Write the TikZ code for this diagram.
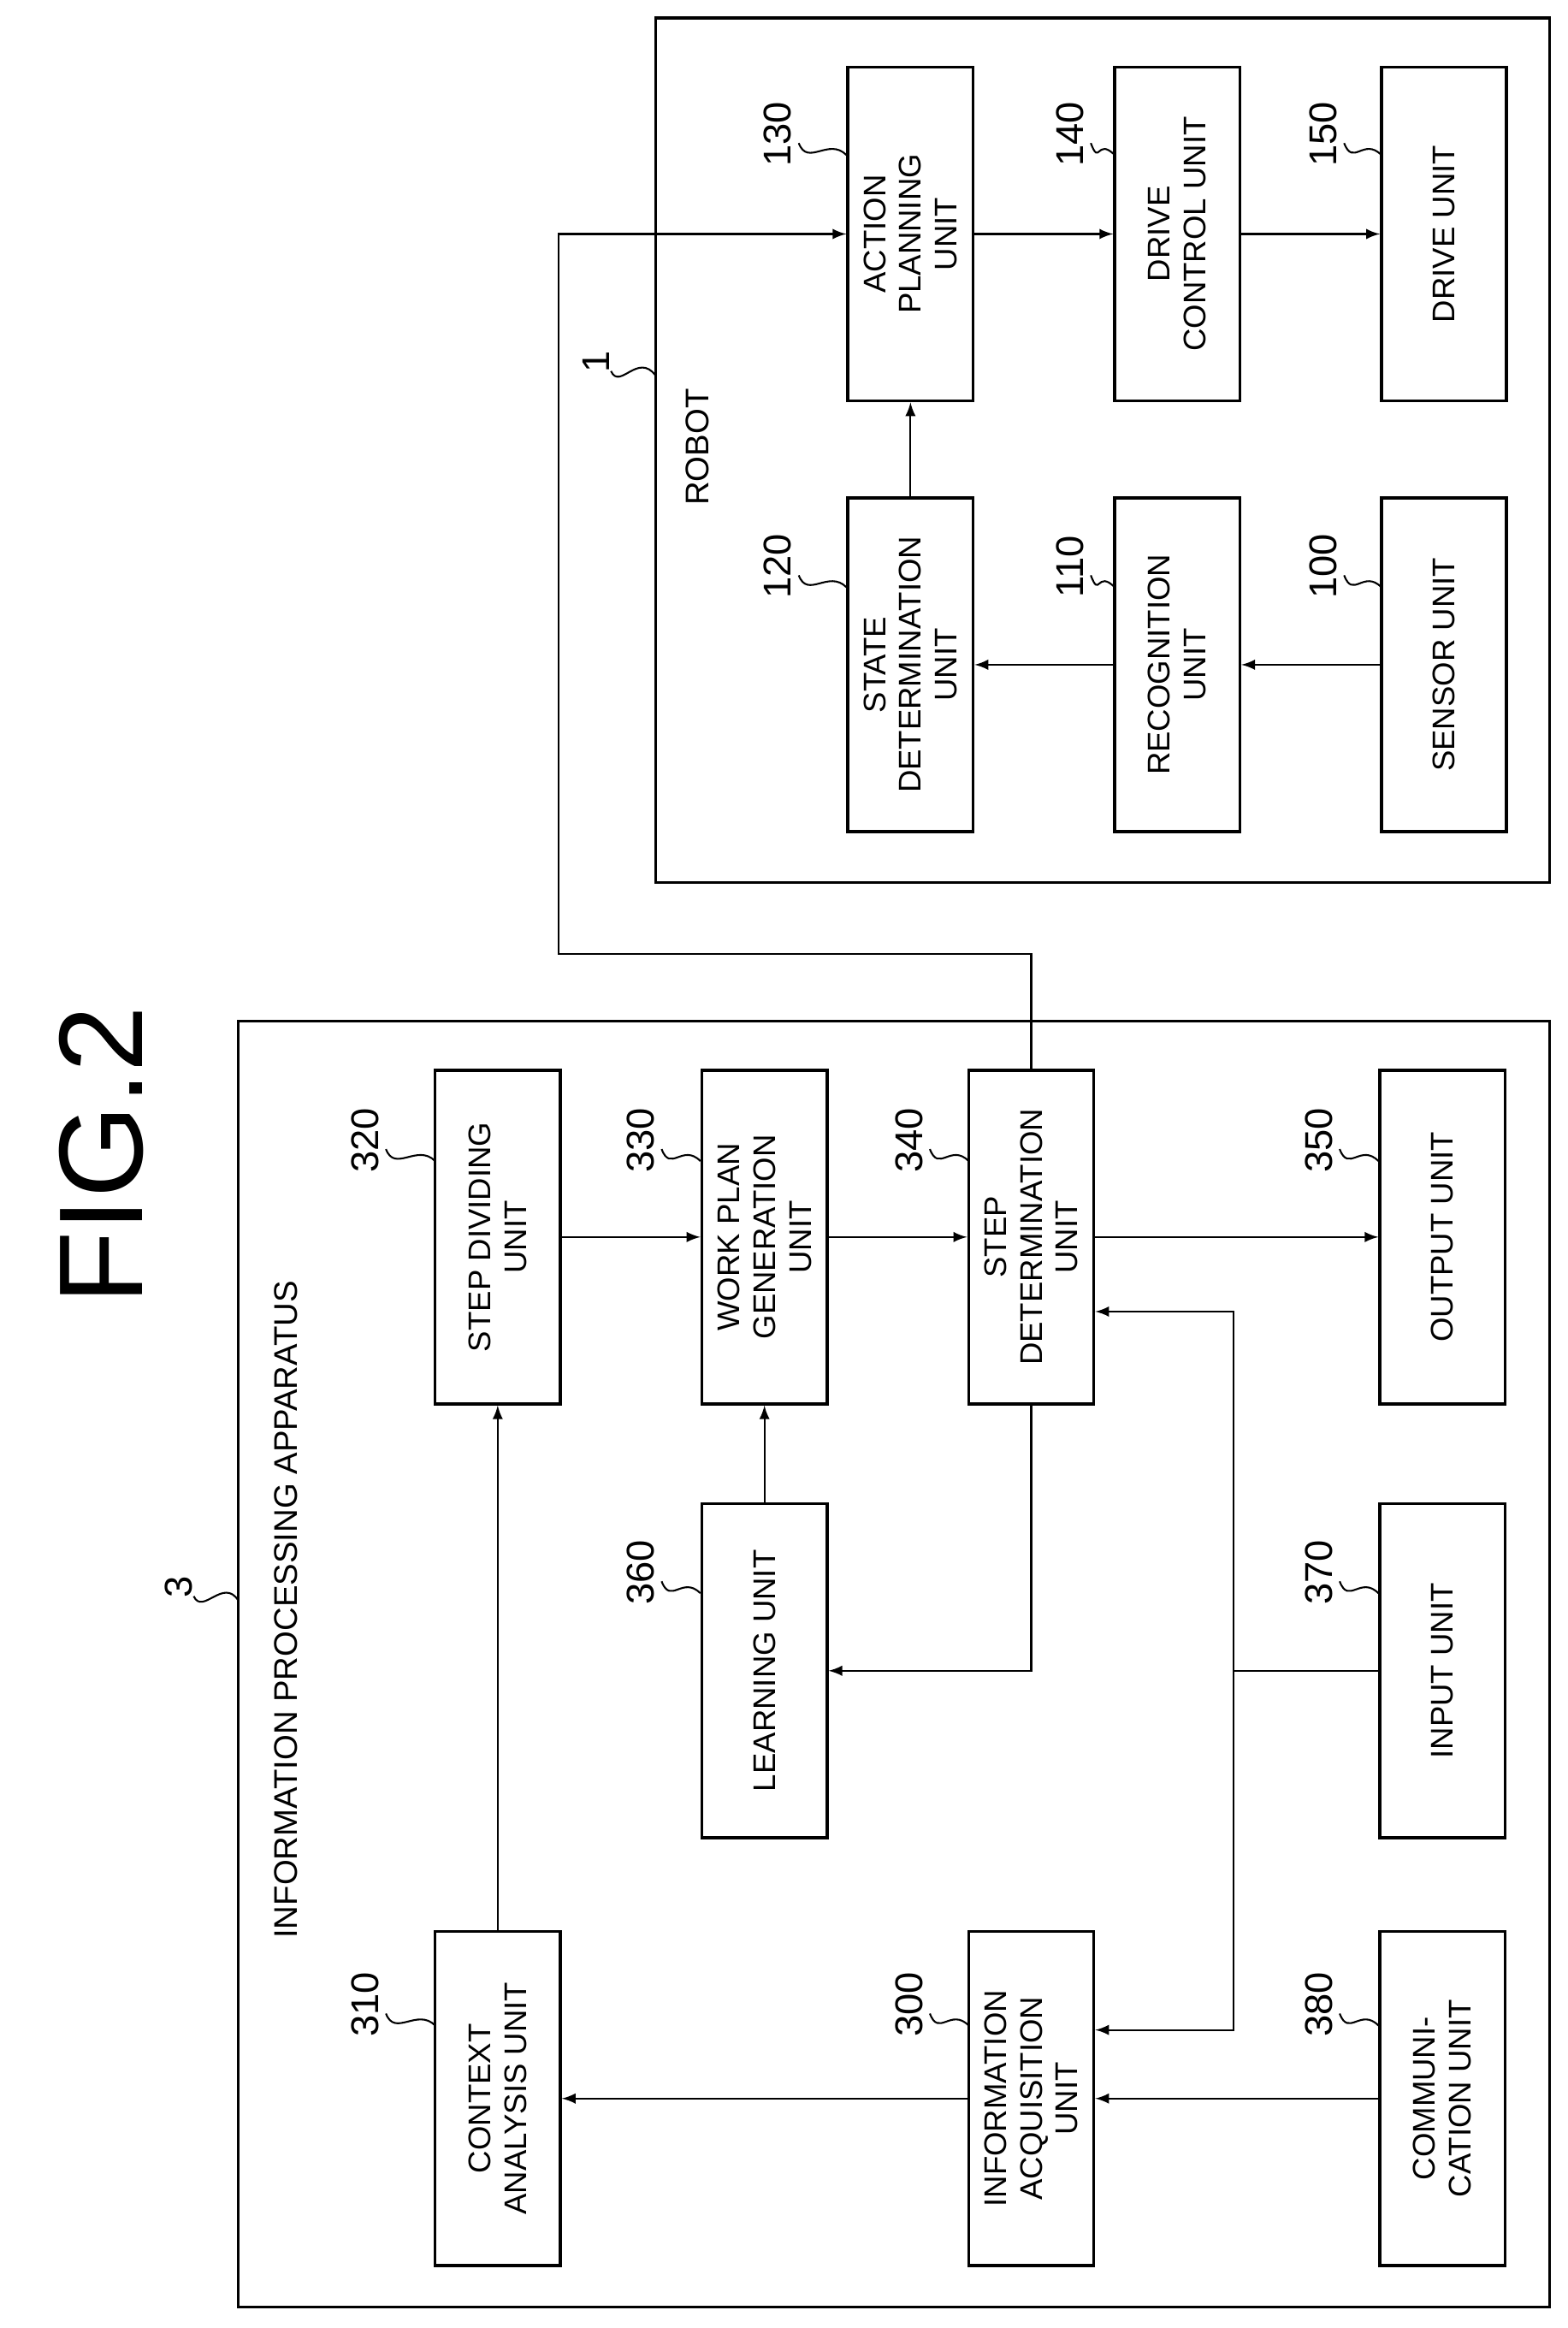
\documentclass[tikz,border=0pt]{standalone}
\usepackage{fontspec}
\setmainfont{Liberation Sans}
\usetikzlibrary{positioning,shapes,arrows}

\begin{document}
\begin{tikzpicture}[
	x=0.5pt, y=-0.5pt,
	unit/.style={draw,line width=1pt,rotate=90,minimum width=112pt,minimum height=42pt,align=center,font=\fontsize{10.5}{12}\selectfont,inner sep=1pt},
	num/.style={rotate=90,font=\fontsize{13}{14}\selectfont},
	arr/.style={-latex,line width=0.6pt},
	lead/.style={line width=0.6pt}
	]
	\useasboundingbox (0,0) rectangle (1052,1562);
	% frames
	\node[draw,line width=1pt,minimum width=300pt,minimum height=290pt,inner sep=0pt] (robot) at (740,302) {};
	\node[draw,line width=1pt,minimum width=440pt,minimum height=431.5pt,inner sep=0pt] (ipa) at (600,1116.5) {};
	\node[rotate=90,font=\fontsize{11}{12}\selectfont] (robotlbl) at (468,300) {ROBOT};
	\node[rotate=90,font=\fontsize{11}{12}\selectfont] (ipalbl) at (192,1080) {INFORMATION PROCESSING APPARATUS};
	\node[rotate=90,font=\fontsize{40}{42}\selectfont] (fig) at (68,775) {FIG.2};
	% robot units
	\node[unit] (n130) at (611,157) {ACTION\\PLANNING\\UNIT};
	\node[unit] (n140) at (790,157) {DRIVE\\CONTROL UNIT};
	\node[unit] (n150) at (969,157) {DRIVE UNIT};
	\node[unit] (n120) at (611,446) {STATE\\DETERMINATION\\UNIT};
	\node[unit] (n110) at (790,446) {RECOGNITION\\UNIT};
	\node[unit] (n100) at (969,446) {SENSOR UNIT};
	% apparatus units
	\node[unit] (n320) at (334,830) {STEP DIVIDING\\UNIT};
	\node[unit] (n330) at (513,830) {WORK PLAN\\GENERATION\\UNIT};
	\node[unit] (n340) at (692,830) {STEP\\DETERMINATION\\UNIT};
	\node[unit] (n350) at (968,830) {OUTPUT UNIT};
	\node[unit] (n360) at (513,1121) {LEARNING UNIT};
	\node[unit] (n370) at (968,1121) {INPUT UNIT};
	\node[unit] (n310) at (334,1408) {CONTEXT\\ANALYSIS UNIT};
	\node[unit] (n300) at (692,1408) {INFORMATION\\ACQUISITION\\UNIT};
	\node[unit] (n380) at (968,1408) {COMMUNI-\\CATION UNIT};
	% reference numbers
	\foreach \n/\x/\y/\bx/\by in {130/522/90/568/104, 140/718/90/748/104, 150/888/90/927/104,
		120/522/380/568/394, 110/718/380/748/394, 100/888/380/927/394,
		320/245/765/292/779, 330/430/765/470/779, 340/610/765/650/779, 350/885/765/925/779,
		360/430/1055/470/1069, 370/885/1055/925/1069,
		310/245/1345/292/1359, 300/610/1345/650/1359, 380/885/1345/925/1359}{
		\node[num] (l\n) at (\x,\y) {\n};
		\draw[lead] (\x+14,\y+6) .. controls (\x+20,\y+22) and (\bx-12,\by-12) .. (\bx,\by);
	}
	\node[num] (l1) at (400,243) {1};
	\draw[lead] (410,249) .. controls (416,262) and (428,236) .. (440,252);
	\node[num] (l3) at (120,1065) {3};
	\draw[lead] (130,1071) .. controls (136,1084) and (150,1058) .. (160,1074);
	% robot connectors
	\draw[arr] (n120.east) -- (n130.west);
	\draw[arr] (n130.south) -- (n140.north);
	\draw[arr] (n140.south) -- (n150.north);
	\draw[arr] (n100.north) -- (n110.south);
	\draw[arr] (n110.north) -- (n120.south);
	% apparatus connectors
	\draw[arr] (n310.east) -- (n320.west);
	\draw[arr] (n320.south) -- (n330.north);
	\draw[arr] (n330.south) -- (n340.north);
	\draw[arr] (n340.south) -- (n350.north);
	\draw[arr] (n360.east) -- (n330.west);
	\draw[arr] (n340.west) |- (n360.south);
	\draw[arr] (n380.north) -- (n300.south);
	\draw[arr] (n300.north) -- (n310.south);
	\coordinate (join) at (828,1121);
	\draw[line width=0.6pt] (n370.north) -- (join);
	\draw[arr] (join) |- ([yshift=-25pt]n340.south);
	\draw[arr] (join) |- ([yshift=23pt]n300.south);
	\draw[arr] (n340.east) |- (375,640) -- (375,157) -- (n130.north);
\end{tikzpicture}
\end{document}
